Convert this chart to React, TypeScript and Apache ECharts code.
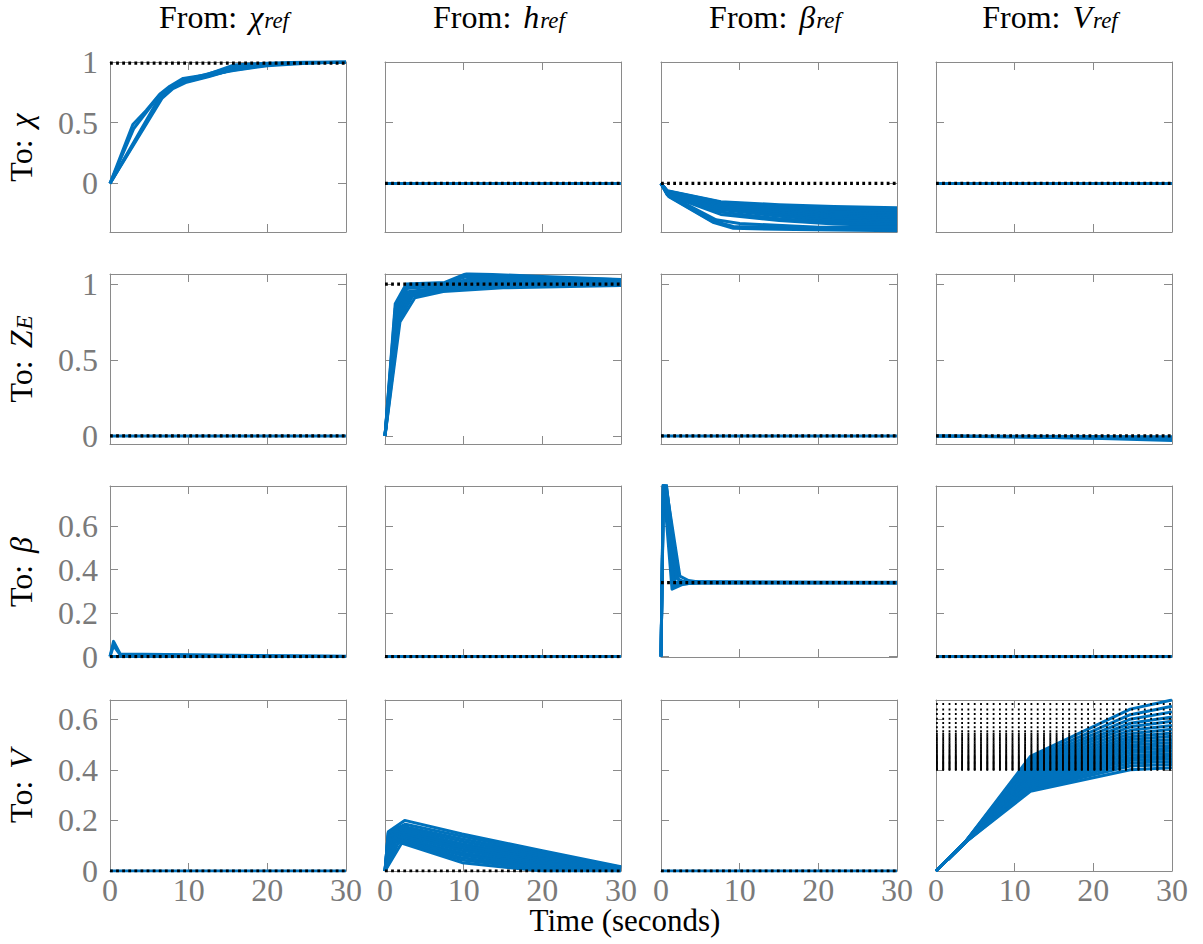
import React, { useEffect, useRef } from 'react';
import * as echarts from 'echarts';

// ---------- styling constants ----------
const BLUE = '#0072BD';
const GRAY = '#7a7a7a';
const AXIS = '#8a8a8a';
const SERIF = 'Liberation Serif';

// ---------- axes ----------
const TIME_MIN = 0;
const TIME_MAX = 30;
const TIME_INTERVAL = 10;
const Y_MIN = [-0.4, -0.053, -0.002, 0];
const Y_MAX = [1.0, 1.066, 0.785, 0.676];
const Y_TICKS = [
  [0, 0.5, 1],
  [0, 0.5, 1],
  [0, 0.2, 0.4, 0.6],
  [0, 0.2, 0.4, 0.6],
];

// inputs (columns) and outputs (rows)
const INPUT_SYMBOLS = ['χ', 'h', 'β', 'V'];
const INPUT_SUBS = ['ref', 'ref', 'ref', 'ref'];
const OUTPUT_SYMBOLS = ['χ', 'Z', 'β', 'V'];
const OUTPUT_SUBS = ['', 'E', '', ''];

// ---------- responses: each line = list of [time, value] ----------
const flatZero = [[[0, 0], [30, 0]]];

// From chi_ref to chi
const chiRef_toChi = [
  [[0, 0], [2.9, 0.485], [4.6, 0.6], [6.4, 0.74], [7.6, 0.8], [9.3, 0.865], [12.3, 0.895], [15.7, 0.975], [20, 0.99], [25, 1.0], [30, 1.0]],
  [[0, 0], [6.4, 0.72], [7.6, 0.79], [9.3, 0.84], [12.3, 0.89], [15.7, 0.93], [20, 0.97], [25, 0.99], [30, 1.0]],
  [[0, 0], [6.6, 0.7], [8, 0.78], [9.6, 0.83], [12.6, 0.88], [15.7, 0.94], [20, 0.98], [25, 0.995], [30, 1.0]],
  [[0, 0], [6.5, 0.71], [7.8, 0.785], [9.5, 0.835], [12.5, 0.885], [15.7, 0.935], [20, 0.975], [25, 0.993], [30, 1.0]],
  [[0, 0], [3, 0.45], [6.2, 0.72], [7.6, 0.79], [9.3, 0.85], [12.3, 0.9], [15.7, 0.96], [20, 0.985], [30, 1.0]],
];
const chiRef_toChi_ss = [0.99];

// From beta_ref to chi : values at fixed times, one row per sample
const bChi_t = [0, 0.8, 7.6, 15, 22, 30];
const bChi_vals = [
  [0, -0.06, -0.15, -0.175, -0.19, -0.2],
  [0, -0.062, -0.155, -0.185, -0.205, -0.215],
  [0, -0.064, -0.16, -0.195, -0.22, -0.23],
  [0, -0.066, -0.165, -0.205, -0.235, -0.245],
  [0, -0.068, -0.17, -0.215, -0.25, -0.26],
  [0, -0.07, -0.175, -0.225, -0.262, -0.275],
  [0, -0.075, -0.185, -0.24, -0.275, -0.29],
  [0, -0.08, -0.2, -0.255, -0.29, -0.305],
  [0, -0.085, -0.215, -0.27, -0.305, -0.32],
  [0, -0.09, -0.235, -0.29, -0.32, -0.335],
  [0, -0.095, -0.255, -0.305, -0.335, -0.35],
];
const betaRef_toChi_low = [
  [[0, 0], [1, -0.1], [6.6, -0.31], [9.2, -0.355], [17, -0.36], [30, -0.37]],
  [[0, 0], [1, -0.105], [6.6, -0.315], [9.2, -0.362], [17, -0.37], [30, -0.38]],
  [[0, 0], [1, -0.11], [6.6, -0.32], [9.2, -0.37], [17, -0.38], [30, -0.39]],
  [[0, 0], [1.1, -0.1], [7, -0.3], [10, -0.33], [20, -0.36], [30, -0.36]],
];
const betaRef_toChi = [
  ...bChi_vals.map((row) => row.map((v, i) => [bChi_t[i], v])),
  ...betaRef_toChi_low,
];
const betaRef_toChi_ss = [0];

// From h_ref to Z_E
const hRef_toZE = [
  [[0, 0], [1.3, 0.87], [2.7, 1.0], [7.6, 1.01], [10.4, 1.07], [20, 1.05], [30, 1.03]],
  [[0, 0], [1.4, 0.855], [2.8, 0.99], [7.6, 1.005], [10.6, 1.06], [20, 1.045], [30, 1.028]],
  [[0, 0], [1.3, 0.84], [2.7, 0.985], [7.6, 1.0], [10.4, 1.05], [20, 1.04], [30, 1.025]],
  [[0, 0], [1.4, 0.825], [2.8, 0.97], [7.5, 0.99], [10.8, 1.035], [20, 1.03], [30, 1.02]],
  [[0, 0], [1.5, 0.81], [2.9, 0.95], [7.5, 0.98], [11, 1.02], [20, 1.02], [30, 1.015]],
  [[0, 0], [1.6, 0.795], [3.1, 0.94], [7.5, 0.972], [11.5, 1.005], [20, 1.01], [30, 1.01]],
  [[0, 0], [1.7, 0.78], [3.3, 0.93], [7.5, 0.965], [12, 0.99], [20, 1.0], [30, 1.005]],
  [[0, 0], [1.8, 0.765], [3.5, 0.92], [7.5, 0.957], [13, 0.98], [20, 0.99], [30, 0.995]],
  [[0, 0], [1.9, 0.75], [3.8, 0.91], [7.4, 0.95], [15, 0.975], [30, 0.99]],
];
const hRef_toZE_ss = [1.0];

// From V_ref to Z_E
const vRef_toZE = [
  [[0, 0], [30, -0.005]],
  [[0, 0], [15, -0.01], [30, -0.02]],
  [[0, 0], [10, -0.005], [20, -0.015], [30, -0.03]],
];

// From chi_ref to beta
const chiRef_toBeta = [
  [[0, 0], [0.45, 0.07], [1.3, 0.012], [10, 0.008], [20, 0.004], [30, 0.002]],
  [[0, 0], [0.45, 0.05], [1.3, 0.008], [30, 0]],
  [[0, 0], [30, 0]],
];

// From beta_ref to beta
const betaRef_toBeta = [
  [[0, 0], [0.3, 0.8], [1.4, 0.31], [2.6, 0.33], [4, 0.34], [30, 0.34]],
  [[0, 0], [0.35, 0.85], [2.4, 0.37], [3.5, 0.35], [5, 0.342], [30, 0.342]],
  [[0, 0], [0.3, 0.82], [1.8, 0.34], [3, 0.345], [30, 0.34]],
  [[0, 0], [0.33, 0.83], [1.6, 0.325], [3, 0.34], [30, 0.34]],
  [[0, 0], [0.35, 0.88], [2.2, 0.355], [3.2, 0.34], [30, 0.341]],
  [[0, 0], [0.35, 0.9], [2, 0.36], [3, 0.335], [5, 0.338], [30, 0.338]],
];
const betaRef_toBeta_ss = [0.34];

// From h_ref to V : one entry per sample
const hV_riseT = [0.42, 0.42, 0.42, 0.45, 0.5, 0.6, 0.7, 0.85, 1.0, 1.2, 1.4, 1.7, 2.1];
const hV_rise = [0.155, 0.152, 0.15, 0.147, 0.14, 0.137, 0.13, 0.127, 0.125, 0.12, 0.115, 0.112, 0.11];
const hV_peakT = [2.5, 2.6, 2.5, 2.4, 2.3, 2.3, 2.3, 2.2, 2.2, 2.2, 2.2, 2.1, 2.1];
const hV_peak = [0.2, 0.185, 0.175, 0.167, 0.16, 0.152, 0.145, 0.138, 0.13, 0.125, 0.12, 0.115, 0.11];
const hV_at98 = [0.146, 0.137, 0.127, 0.118, 0.108, 0.099, 0.09, 0.081, 0.071, 0.062, 0.052, 0.043, 0.033];
const hV_at20 = [0.08, 0.073, 0.067, 0.06, 0.053, 0.047, 0.04, 0.033, 0.027, 0.02, 0.013, 0.007, 0.0];
const hV_at30 = [0.017, 0.015, 0.014, 0.012, 0.011, 0.009, 0.008, 0.007, 0.005, 0.004, 0.002, 0.001, 0];
const hRef_toV = hV_rise.map((v, i) => [
  [0, 0],
  [hV_riseT[i], v],
  [hV_peakT[i], hV_peak[i]],
  [9.8, hV_at98[i]],
  [20, hV_at20[i]],
  [30, hV_at30[i]],
]);

// From V_ref to V (one entry per uncertain sample)
const vRefV_t = [3.6, 12, 24.7, 30];
const vRefV_early = [0.11];
const vRefV_at12 = [0.453, 0.445, 0.437, 0.43, 0.423, 0.416, 0.409, 0.402, 0.395, 0.388, 0.381, 0.374, 0.367, 0.36, 0.352, 0.344, 0.336, 0.328, 0.321, 0.315];
const vRefV_at25 = [0.64, 0.618, 0.6, 0.584, 0.57, 0.556, 0.543, 0.531, 0.52, 0.509, 0.498, 0.488, 0.478, 0.468, 0.458, 0.448, 0.438, 0.427, 0.415, 0.4];
const vRefV_at30 = [0.676, 0.651, 0.629, 0.609, 0.592, 0.575, 0.56, 0.546, 0.533, 0.52, 0.508, 0.496, 0.485, 0.474, 0.464, 0.454, 0.444, 0.433, 0.421, 0.408];
const vRefV_ss = [0.66, 0.638, 0.621, 0.602, 0.585, 0.568, 0.552, 0.543, 0.536, 0.529, 0.522, 0.515, 0.508, 0.501, 0.495, 0.489, 0.483, 0.477, 0.472, 0.467, 0.462, 0.457, 0.453, 0.449, 0.445, 0.441, 0.436, 0.432, 0.428, 0.425, 0.421, 0.417, 0.413, 0.409, 0.405, 0.402, 0.4];

const vRef_toV = vRefV_at12.map((v, i) => [
  [0, 0],
  [vRefV_t[0], vRefV_early[0]],
  [vRefV_t[1], v],
  [vRefV_t[2], vRefV_at25[i]],
  [vRefV_t[3], vRefV_at30[i]],
]);

// panel table [row][col]
const PANELS = [
  [
    { lines: chiRef_toChi, ss: chiRef_toChi_ss },
    { lines: flatZero, ss: [0] },
    { lines: betaRef_toChi, ss: betaRef_toChi_ss },
    { lines: flatZero, ss: [0] },
  ],
  [
    { lines: flatZero, ss: [0] },
    { lines: hRef_toZE, ss: hRef_toZE_ss },
    { lines: flatZero, ss: [0] },
    { lines: vRef_toZE, ss: [0] },
  ],
  [
    { lines: chiRef_toBeta, ss: [0] },
    { lines: flatZero, ss: [0] },
    { lines: betaRef_toBeta, ss: betaRef_toBeta_ss },
    { lines: flatZero, ss: [0] },
  ],
  [
    { lines: flatZero, ss: [0] },
    { lines: hRef_toV, ss: [0] },
    { lines: flatZero, ss: [0] },
    { lines: vRef_toV, ss: vRefV_ss, thin: true },
  ],
];

// ---------- layout ----------
const COL_LEFT = [110, 385, 661, 936];
const PLOT_W = 236;
const ROW_TOP = [62, 274, 486, 700];
const ROW_H = [170, 170, 171, 171];

const RICH = {
  n: { fontFamily: SERIF, fontSize: 32, color: GRAY, lineHeight: 30, verticalAlign: 'middle' },
  m: { fontFamily: SERIF, fontStyle: 'italic', fontSize: 32, color: GRAY, lineHeight: 30, verticalAlign: 'middle', padding: [0, 1, 0, 4] },
  s: { fontFamily: SERIF, fontStyle: 'italic', fontSize: 23, color: GRAY, lineHeight: 16, verticalAlign: 'bottom' },
};

function buildOption() {
  const grid: any[] = [];
  const xAxis: any[] = [];
  const yAxis: any[] = [];
  const series: any[] = [];
  const graphic: any[] = [];

  for (let r = 0; r < 4; r++) {
    for (let c = 0; c < 4; c++) {
      const idx = r * 4 + c;
      grid.push({ left: COL_LEFT[c], top: ROW_TOP[r], width: PLOT_W, height: ROW_H[r], containLabel: false });
      const lineStyle = { color: AXIS, width: 1 };
      const baseX = {
        gridIndex: idx,
        type: 'value',
        min: TIME_MIN,
        max: TIME_MAX,
        interval: TIME_INTERVAL,
        axisLine: { show: true, onZero: false, lineStyle },
        axisTick: { show: true, inside: true, length: 8, lineStyle },
        splitLine: { show: false },
      };
      xAxis.push({
        ...baseX,
        position: 'bottom',
        axisLabel: {
          show: r === 3,
          fontFamily: SERIF,
          fontSize: 32,
          lineHeight: 24,
          color: GRAY,
          margin: 7,
          showMinLabel: true,
          showMaxLabel: true,
        },
      });
      xAxis.push({ ...baseX, position: 'top', axisLabel: { show: false } });
      const baseY = {
        gridIndex: idx,
        type: 'value',
        min: Y_MIN[r],
        max: Y_MAX[r],
        axisLine: { show: true, onZero: false, lineStyle },
        axisTick: { show: true, inside: true, length: 8, lineStyle, customValues: Y_TICKS[r] },
        splitLine: { show: false },
      };
      yAxis.push({
        ...baseY,
        position: 'left',
        axisLabel: {
          show: c === 0,
          customValues: Y_TICKS[r],
          fontFamily: SERIF,
          fontSize: 32,
          color: GRAY,
          margin: 12,
        },
      });
      yAxis.push({ ...baseY, position: 'right', axisLabel: { show: false } });

      const p: any = PANELS[r][c];
      p.lines.forEach((ln: number[][]) => {
        series.push({
          type: 'line',
          xAxisIndex: idx * 2,
          yAxisIndex: idx * 2,
          data: ln,
          showSymbol: false,
          symbol: 'none',
          silent: true,
          z: 2,
          lineStyle: { color: BLUE, width: 3, join: 'round' },
        });
      });
      p.ss.forEach((v: number) => {
        series.push({
          type: 'line',
          xAxisIndex: idx * 2,
          yAxisIndex: idx * 2,
          data: [[TIME_MIN, v], [TIME_MAX, v]],
          showSymbol: false,
          symbol: 'none',
          silent: true,
          z: 3,
          lineStyle: p.thin
            ? { color: '#000', width: 2, type: [1.8, 4.5], cap: 'butt' }
            : { color: '#000', width: 3.2, type: [2.8, 3.3], cap: 'butt' },
        });
      });
    }
  }

  // column titles
  for (let c = 0; c < 4; c++) {
    graphic.push({
      type: 'text',
      x: COL_LEFT[c] + PLOT_W / 2 - 4,
      y: 17,
      silent: true,
      style: {
        text: `{n|From: }{m|${INPUT_SYMBOLS[c]}}{s|${INPUT_SUBS[c]}}`,
        rich: RICH,
        align: 'center',
        verticalAlign: 'middle',
      },
    });
  }
  // row labels
  for (let r = 0; r < 4; r++) {
    const sub = OUTPUT_SUBS[r] ? `{s|${OUTPUT_SUBS[r]}}` : '';
    graphic.push({
      type: 'text',
      x: 21,
      y: ROW_TOP[r] + ROW_H[r] / 2,
      rotation: Math.PI / 2,
      silent: true,
      style: {
        text: `{n|To: }{m|${OUTPUT_SYMBOLS[r]}}${sub}`,
        rich: RICH,
        align: 'center',
        verticalAlign: 'middle',
      },
    });
  }
  // x label
  graphic.push({
    type: 'text',
    x: 625,
    y: 920,
    silent: true,
    style: {
      text: 'Time (seconds)',
      fontFamily: SERIF,
      fontSize: 31,
      lineHeight: 24,
      fill: '#000',
      align: 'center',
      verticalAlign: 'middle',
    },
  });

  return {
    animation: false,
    backgroundColor: '#fff',
    grid,
    xAxis,
    yAxis,
    series,
    graphic,
  };
}

export default function App() {
  const ref = useRef<HTMLDivElement>(null);
  useEffect(() => {
    if (!ref.current) return;
    const chart = echarts.init(ref.current, undefined, { renderer: 'svg' });
    chart.setOption(buildOption() as any);
    return () => chart.dispose();
  }, []);
  return (
    <div
      ref={ref}
      style={{ position: 'absolute', left: 0, top: 0, width: 1203, height: 944, background: '#fff' }}
    />
  );
}
